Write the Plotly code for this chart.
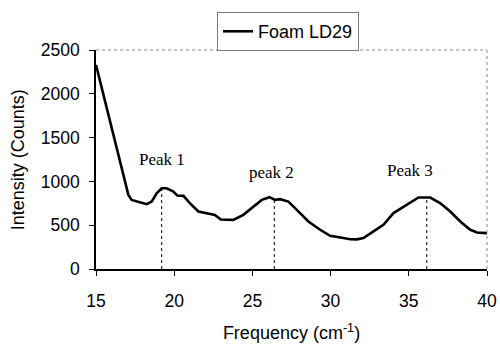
import plotly.graph_objects as go

# Raman-style spectrum of the foam sample
frequency = [15.0, 15.47, 15.9, 16.32, 16.75, 17.07, 17.28, 17.71, 18.24, 18.56,
             18.88, 19.2, 19.52, 19.95, 20.2, 20.59, 21.0, 21.55, 22.08, 22.6,
             22.98, 23.57, 23.78, 24.42, 25.06, 25.6, 26.09, 26.45, 26.77, 27.3,
             27.84, 28.58, 29.33, 29.97, 30.82, 31.25, 31.68, 32.1, 32.74, 33.38,
             34.02, 34.66, 35.2, 35.62, 36.37, 37.0, 37.65, 38.29, 38.93, 39.36,
             39.95, 40.0]
intensity = [2330, 1985, 1681, 1378, 1074, 846, 789, 770, 740, 770,
             865, 922, 922, 884, 838, 835, 752, 656, 638, 618,
             565, 561, 561, 618, 706, 789, 820, 789, 797, 770,
             675, 542, 448, 379, 353, 340, 338, 353, 429, 505,
             638, 713, 770, 816, 816, 752, 656, 542, 448, 417,
             410, 410]

# Peak markers
peak_labels = ["Peak 1", "peak 2", "Peak 3"]
peak_freq = [19.2, 26.4, 36.15]
peak_intensity = [922, 792, 816]
label_freq = [19.19, 26.2, 35.09]
label_intensity = [1250, 1105, 1125]

x_ticks = [15, 20, 25, 30, 35, 40]
y_ticks = [0, 500, 1000, 1500, 2000, 2500]

SANS = "Liberation Sans, Arial, sans-serif"
SERIF = "Liberation Serif, Times New Roman, serif"

fig = go.Figure()

fig.add_trace(go.Scatter(
    x=frequency, y=intensity, mode="lines", name="Foam LD29",
    line=dict(color="black", width=2.6),
))

# dotted drop lines from each peak to the axis
drop_x, drop_y = [], []
for f, v in zip(peak_freq, peak_intensity):
    drop_x += [f, f, None]
    drop_y += [0, v, None]
fig.add_trace(go.Scatter(
    x=drop_x, y=drop_y, mode="lines", showlegend=False, hoverinfo="skip",
    line=dict(color="black", width=1, dash="dot"),
))

for text, f, v in zip(peak_labels, label_freq, label_intensity):
    fig.add_annotation(x=f, y=v, text=text, showarrow=False,
                       xanchor="center", yanchor="middle",
                       font=dict(family=SERIF, size=17, color="black"))

# vertical axis title
fig.add_annotation(x=-0.2, y=0.5, xref="paper", yref="paper",
                   text="Intensity (Counts)", textangle=-90, showarrow=False,
                   xanchor="center", yanchor="middle",
                   font=dict(family=SANS, size=18, color="black"))

# dotted frame on top and right
for x0, y0, x1, y1 in [(0, 1, 1, 1), (1, 0, 1, 1)]:
    fig.add_shape(type="line", xref="paper", yref="paper",
                  x0=x0, y0=y0, x1=x1, y1=y1,
                  line=dict(color="#8a8a8a", width=1, dash="dot"))

fig.update_layout(
    width=500, height=345,
    margin=dict(l=96, r=13, t=50, b=76, autoexpand=False),
    paper_bgcolor="white", plot_bgcolor="white",
    font=dict(family=SANS, color="black"),
    showlegend=True,
    legend=dict(
        x=0.434, y=0.965, xanchor="left", yanchor="top",
        xref="container", yref="container",
        bordercolor="#7a7a7a", borderwidth=1, bgcolor="white",
        font=dict(family=SANS, size=18, color="black"),
        tracegroupgap=0, itemwidth=30,
    ),
    xaxis=dict(
        range=[15, 40], tickvals=x_ticks, ticktext=[str(t) for t in x_ticks],
        showgrid=False, zeroline=False,
        showline=True, linecolor="black", linewidth=1.5,
        ticks="outside", ticklen=5, tickcolor="black", tickwidth=1,
        tickfont=dict(family=SANS, size=17.5, color="black"),
        tickangle=0, ticklabelstandoff=10,
        title=dict(text="Frequency (cm<sup>-1</sup>)",
                   font=dict(family=SANS, size=18, color="black"), standoff=17),
    ),
    yaxis=dict(
        range=[0, 2500], tickvals=y_ticks, ticktext=[str(t) for t in y_ticks],
        showgrid=False, zeroline=False,
        showline=True, linecolor="black", linewidth=1.5,
        ticks="outside", ticklen=5, tickcolor="black", tickwidth=1,
        tickfont=dict(family=SANS, size=17.5, color="black"),
        ticklabelstandoff=6,
    ),
)

fig.write_html("out.html")
